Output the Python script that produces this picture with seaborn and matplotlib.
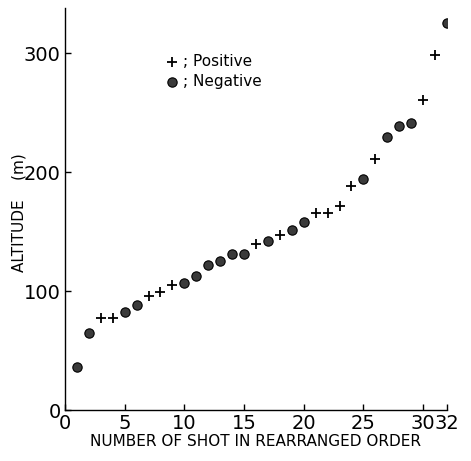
import matplotlib
matplotlib.use("Agg")
import matplotlib.pyplot as plt
import seaborn as sns
import pandas as pd

shot = list(range(1, 33))
altitude = [36, 65, 77.5, 77.5, 82, 88, 96, 99.5, 105, 107, 112.5, 122, 125, 131, 131,
            140, 142, 147, 151.5, 158, 165.5, 165.5, 171.5, 188.5, 194, 211, 229.5, 239,
            241.5, 260.5, 298.5, 325.5]
polarity = ["N", "N", "P", "P", "N", "N", "P", "P", "P", "N", "N", "N", "N", "N", "N",
            "P", "N", "P", "N", "N", "P", "P", "P", "P", "N", "P", "N", "N", "N", "P", "P", "N"]
xticks = [0, 5, 10, 15, 20, 25, 30, 32]
yticks = [0, 100, 200, 300]
legend_labels = {"P": "; Positive", "N": "; Negative"}

df = pd.DataFrame({"shot": shot, "altitude": altitude, "polarity": polarity})

sns.set_style("ticks")
plt.rcParams["font.family"] = ["DejaVu Sans"]

fig = plt.figure(figsize=(4.71, 4.61), dpi=100)
ax = fig.add_axes([0.138, 0.1106, 0.811, 0.872])

pos = df[df.polarity == "P"]
neg = df[df.polarity == "N"]
sns.scatterplot(data=pos, x="shot", y="altitude", marker="+", s=50, color="black",
                linewidth=1.3, ax=ax, label=legend_labels["P"])
sns.scatterplot(data=neg, x="shot", y="altitude", marker="o", s=45, color="#3a3a3a",
                edgecolor="black", linewidth=0.8, ax=ax, label=legend_labels["N"])

ax.set_xlim(0, 32)
ax.set_ylim(0, 338)
ax.set_xticks(xticks)
ax.set_yticks(yticks)
ax.tick_params(direction="in", length=4, width=1, labelsize=14, colors="black", pad=3)
for side in ["top", "right"]:
    ax.spines[side].set_visible(False)
for side in ["left", "bottom"]:
    ax.spines[side].set_linewidth(1.0)
    ax.spines[side].set_color("black")

ax.set_xlabel("NUMBER OF SHOT IN REARRANGED ORDER", fontsize=11, color="black")
ax.xaxis.set_label_coords(0.5, -0.06)
ax.set_ylabel("ALTITUDE    (m)", fontsize=11, color="black")
ax.yaxis.set_label_coords(-0.1, 0.49)

leg = ax.legend(loc="upper left", bbox_to_anchor=(0.24, 0.9), frameon=False,
                fontsize=11, handletextpad=0.1, borderaxespad=0, labelspacing=0.3,
                handlelength=1.2, labelcolor="black")

fig.savefig("out.png", dpi=100)
